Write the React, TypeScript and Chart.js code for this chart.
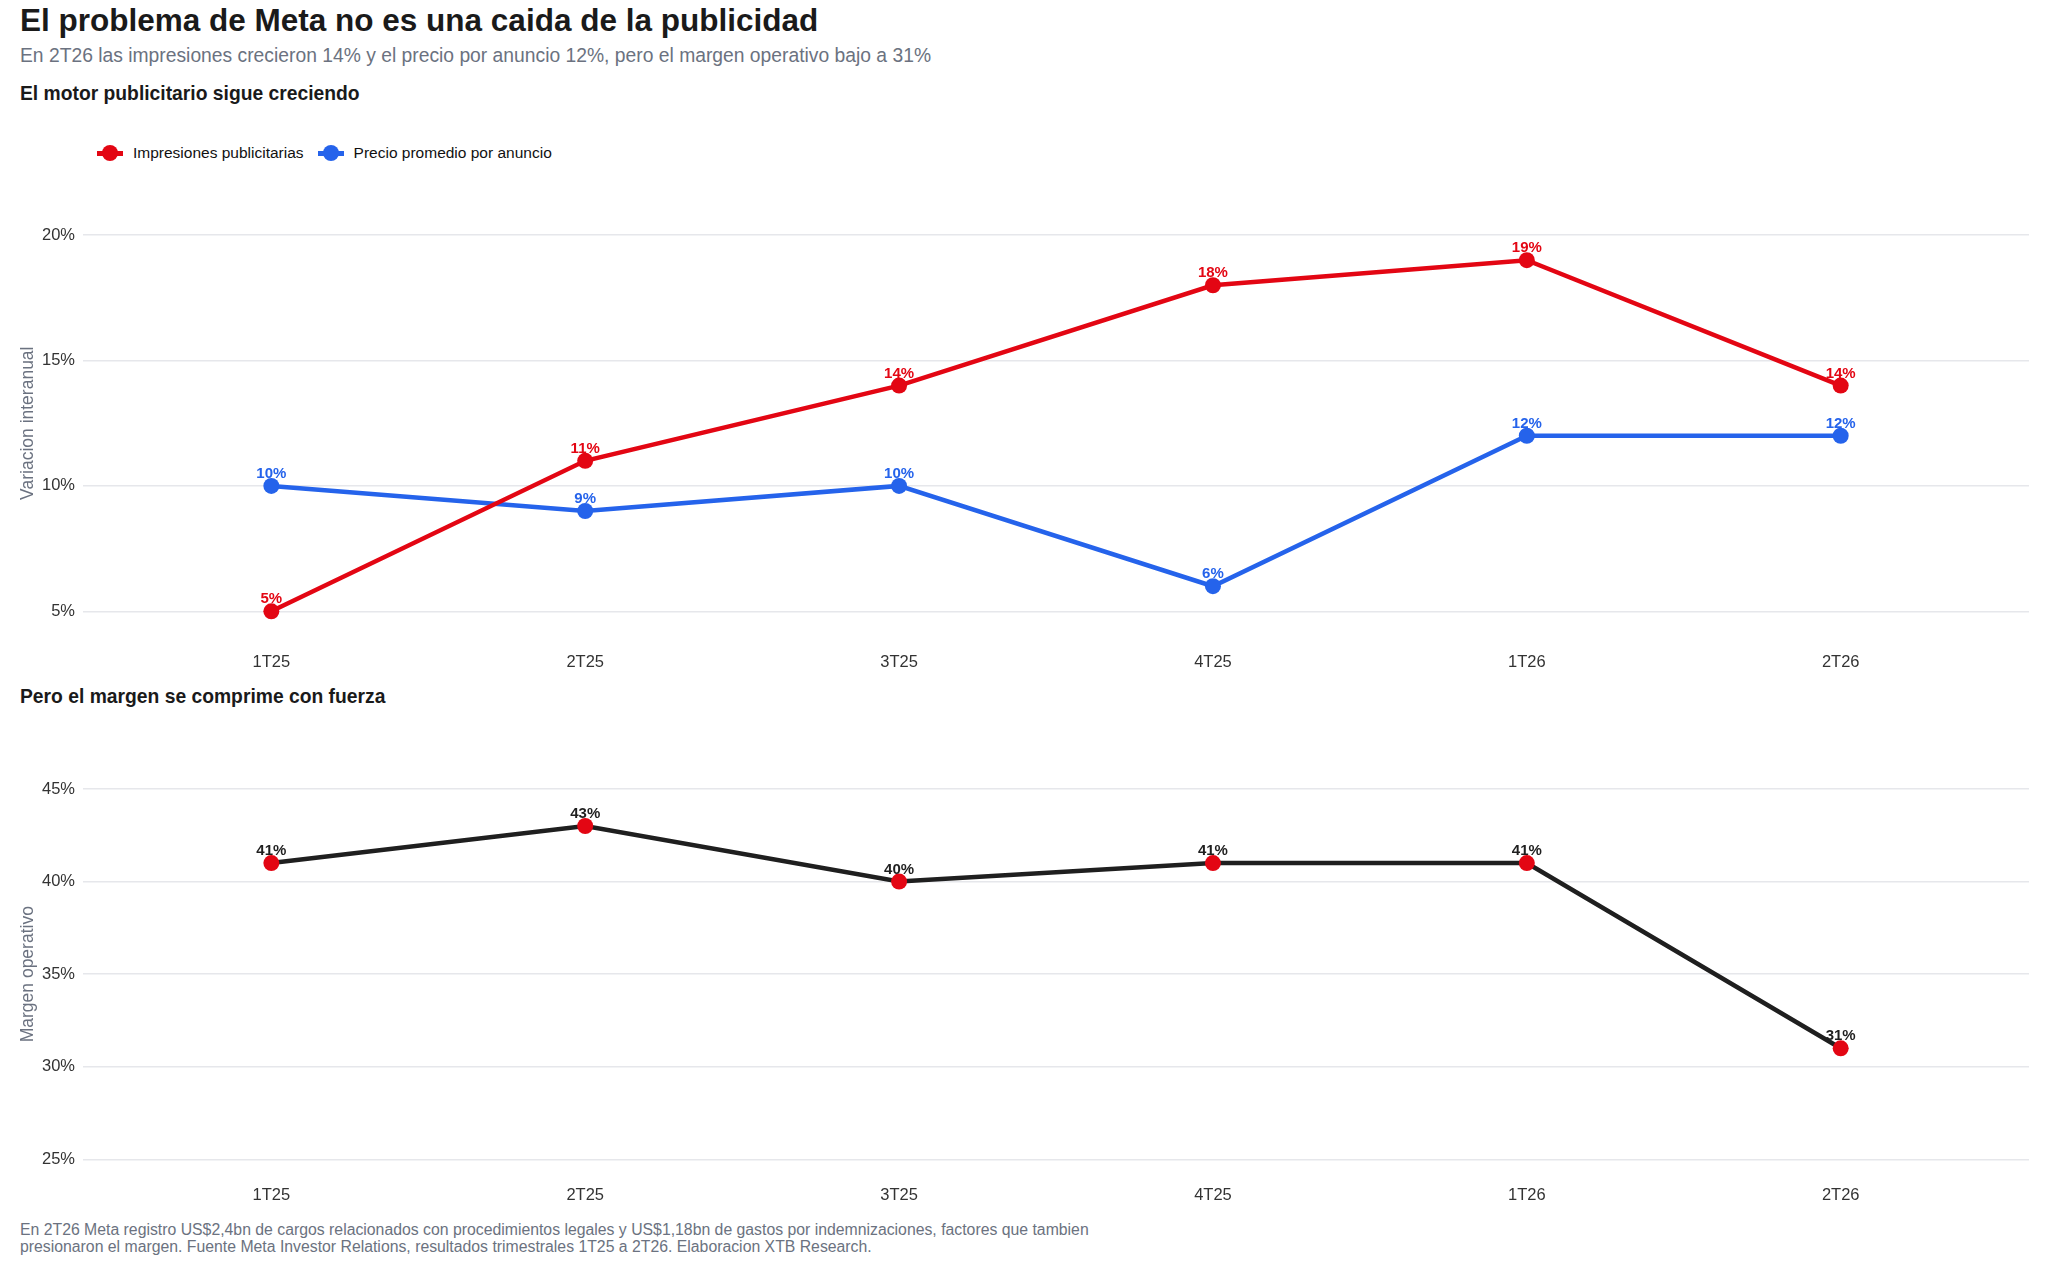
import { useEffect, useRef } from 'react';
import { Chart, registerables } from 'chart.js';

Chart.register(...registerables);

const FONT = '"Liberation Sans", Arial, Helvetica, sans-serif';

// data
const categories = ['1T25', '2T25', '3T25', '4T25', '1T26', '2T26'];
const impresiones = [5, 11, 14, 18, 19, 14];
const precioAnuncio = [10, 9, 10, 6, 12, 12];
const margenOperativo = [41, 43, 40, 41, 41, 31];
const ticksCrecimiento = [5, 10, 15, 20];
const ticksMargen = [25, 30, 35, 40, 45];

const RED = '#e30613';
const BLUE = '#2563eb';
const BLACK = '#1f1f1f';
const GRAY = '#6b7280';

Chart.defaults.font.family = FONT;

// value labels above each point
const valueLabels = {
  id: 'valueLabels',
  afterDatasetsDraw(chart: any, _args: any, opts: any) {
    const { ctx } = chart;
    ctx.save();
    ctx.font = `bold 15px ${FONT}`;
    ctx.textAlign = 'center';
    ctx.textBaseline = 'alphabetic';
    chart.data.datasets.forEach((ds: any, di: number) => {
      const meta = chart.getDatasetMeta(di);
      ctx.fillStyle = (opts.colors && opts.colors[di]) || ds.borderColor;
      meta.data.forEach((pt: any, i: number) => {
        ctx.fillText(`${ds.data[i].y}%`, pt.x, pt.y - 8);
      });
    });
    ctx.restore();
  },
};

function toPoints(values: number[]) {
  return values.map((v, i) => ({ x: i, y: v }));
}

function makeOptions(min: number, max: number, yTicks: number[], title: string, padTop: number, padBottom: number, labelColors: string[]) {
  return {
    responsive: true,
    maintainAspectRatio: false,
    animation: false as const,
    events: [],
    layout: { padding: { top: padTop, bottom: padBottom, left: 0, right: 19 } },
    plugins: {
      legend: { display: false },
      tooltip: { enabled: false },
      valueLabels: { colors: labelColors },
    },
    scales: {
      x: {
        type: 'linear' as const,
        min: -0.6,
        max: 5.6,
        afterBuildTicks: (scale: any) => {
          scale.ticks = categories.map((_, i) => ({ value: i }));
        },
        ticks: {
          color: '#333333',
          font: { size: 16.5 },
          padding: 6,
          callback: (v: any) => categories[v],
        },
        grid: { display: false, drawTicks: false },
        border: { display: false },
      },
      y: {
        min,
        max,
        afterBuildTicks: (scale: any) => {
          scale.ticks = yTicks.map((v) => ({ value: v }));
        },
        ticks: {
          color: '#333333',
          font: { size: 16.5 },
          padding: 8,
          callback: (v: any) => `${v}%`,
        },
        grid: { color: '#e6e7eb', lineWidth: 1.5, drawTicks: false },
        border: { display: false },
        title: {
          display: true,
          text: title,
          color: GRAY,
          font: { size: 17.5 },
          padding: { top: 18, bottom: -5 },
        },
      },
    },
  };
}

function LineChart({ config, top, height }: { config: any; top: number; height: number }) {
  const canvasRef = useRef<HTMLCanvasElement>(null);
  const chartRef = useRef<any>(null);

  useEffect(() => {
    if (!canvasRef.current) return;
    if (chartRef.current) chartRef.current.destroy();
    chartRef.current = new Chart(canvasRef.current, config);
    return () => {
      if (chartRef.current) {
        chartRef.current.destroy();
        chartRef.current = null;
      }
    };
  }, [config]);

  return (
    <div style={{ position: 'absolute', left: 0, top, width: 2048, height }}>
      <canvas ref={canvasRef}></canvas>
    </div>
  );
}

const crecimientoConfig = {
  type: 'line',
  data: {
    datasets: [
      {
        label: 'Impresiones publicitarias',
        data: toPoints(impresiones),
        borderColor: RED,
        backgroundColor: RED,
        pointBackgroundColor: RED,
        borderWidth: 4.5,
        pointRadius: 8,
        pointBorderWidth: 0,
        tension: 0,
      },
      {
        label: 'Precio promedio por anuncio',
        data: toPoints(precioAnuncio),
        borderColor: BLUE,
        backgroundColor: BLUE,
        pointBackgroundColor: BLUE,
        borderWidth: 4.5,
        pointRadius: 8,
        pointBorderWidth: 0,
        tension: 0,
      },
    ],
  },
  options: makeOptions(3.6, 21.4, ticksCrecimiento, 'Variacion interanual', 30, 2.8, [RED, BLUE]),
  plugins: [valueLabels],
};

const margenConfig = {
  type: 'line',
  data: {
    datasets: [
      {
        label: 'Margen operativo',
        data: toPoints(margenOperativo),
        borderColor: BLACK,
        backgroundColor: RED,
        pointBackgroundColor: RED,
        borderWidth: 4.5,
        pointRadius: 8,
        pointBorderWidth: 0,
        tension: 0,
      },
    ],
  },
  options: makeOptions(23.9, 46.1, ticksMargen, 'Margen operativo', 38.6, 2.4, [BLACK]),
  plugins: [valueLabels],
};

function LegendItem({ color, text }: { color: string; text: string }) {
  return (
    <div style={{ display: 'flex', alignItems: 'center', marginRight: 14 }}>
      <span style={{ position: 'relative', width: 26, height: 16, marginRight: 10 }}>
        <span style={{ position: 'absolute', left: 0, top: 5.5, width: 26, height: 5, background: color }} />
        <span style={{ position: 'absolute', left: 5, top: 0, width: 16, height: 16, borderRadius: '50%', background: color }} />
      </span>
      <span style={{ fontSize: 15.5, color: '#111111' }}>{text}</span>
    </div>
  );
}

export default function App() {
  useEffect(() => {
    document.body.style.margin = '0';
  }, []);

  const text = (top: number, size: number, weight: number, color: string, content: any, extra: any = {}) => (
    <div style={{ position: 'absolute', left: 20, top, fontSize: size, fontWeight: weight, color, lineHeight: `${size}px`, whiteSpace: 'nowrap', ...extra }}>
      {content}
    </div>
  );

  return (
    <div style={{ position: 'relative', width: 2048, height: 1264, background: '#ffffff', fontFamily: FONT, overflow: 'hidden' }}>
      {text(5.3, 31.5, 700, '#1a1a1a', 'El problema de Meta no es una caida de la publicidad')}
      {text(45.9, 19.3, 400, GRAY, 'En 2T26 las impresiones crecieron 14% y el precio por anuncio 12%, pero el margen operativo bajo a 31%')}
      {text(83.7, 19.3, 700, '#1a1a1a', 'El motor publicitario sigue creciendo')}
      <div style={{ position: 'absolute', left: 97, top: 145, height: 16, display: 'flex', alignItems: 'center' }}>
        <LegendItem color={RED} text="Impresiones publicitarias" />
        <LegendItem color={BLUE} text="Precio promedio por anuncio" />
      </div>
      <LineChart config={crecimientoConfig} top={170} height={511} />
      {text(686.7, 19.3, 700, '#1a1a1a', 'Pero el margen se comprime con fuerza')}
      <LineChart config={margenConfig} top={730} height={484} />
      {text(1221, 15.8, 400, GRAY, (
        <>
          En 2T26 Meta registro US$2,4bn de cargos relacionados con procedimientos legales y US$1,18bn de gastos por indemnizaciones, factores que tambien
          <br />
          presionaron el margen. Fuente Meta Investor Relations, resultados trimestrales 1T25 a 2T26. Elaboracion XTB Research.
        </>
      ), { lineHeight: '17px' })}
    </div>
  );
}
